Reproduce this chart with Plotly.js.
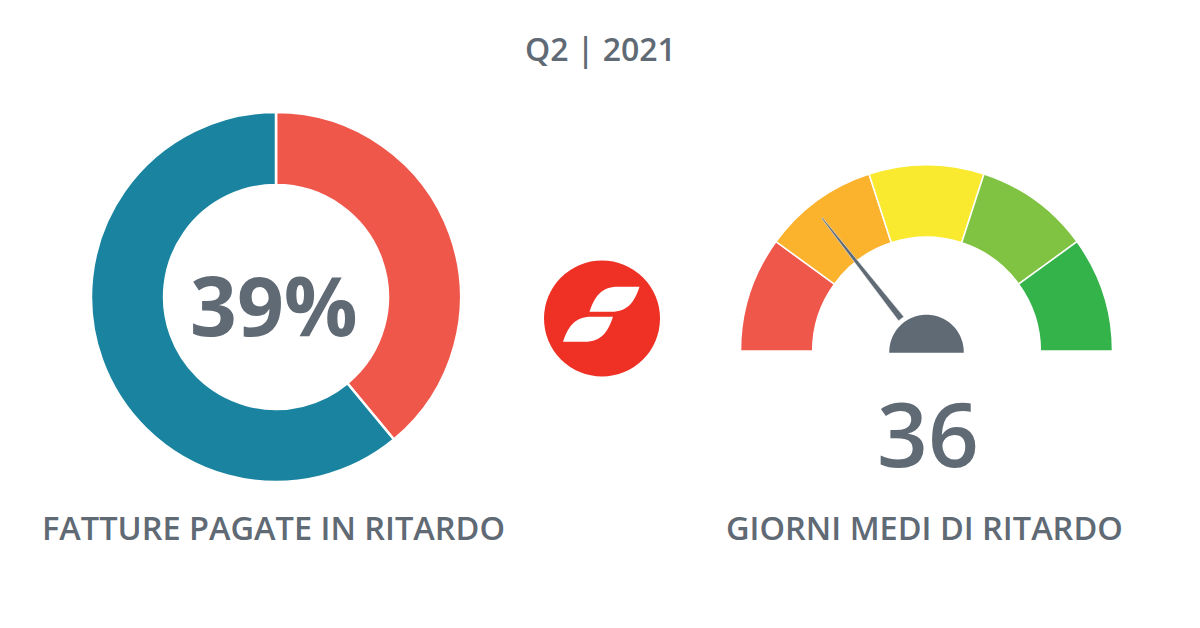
<!DOCTYPE html>
<html>
<head>
<meta charset="utf-8">
<script src="https://cdn.plot.ly/plotly-3.0.1.min.js"></script>
<style>html,body{margin:0;padding:0;background:#fff;}#chart{width:1200px;height:628px;}</style>
</head>
<body>
<div id="chart"></div>
<script>
// ---- data ----
const periodTitle = "Q2 | 2021";
const donutLabels = ["Pagate in ritardo", "Pagate puntuali"];
const donutValues = [39, 61];
const donutColors = ["#F0574B", "#1A84A0"];
const donutCaption = "FATTURE PAGATE IN RITARDO";
const donutCenterText = "39%";

const gaugeBandLabels = ["0-25", "25-50", "50-75", "75-100", "100-125"];
const gaugeBandValues = [25, 25, 25, 25, 25];
const gaugeBandColors = ["#F0574B", "#FBB32E", "#F9EA2F", "#80C342", "#34B34A"];
const gaugeValue = 36;
const gaugeCaption = "GIORNI MEDI DI RITARDO";

// ---- layout helpers (pixel geometry) ----
const W = 1200, H = 628;
const textColor = "#5F6A75";
const font = "'Open Sans', 'Noto Sans', sans-serif";

const donutC = {x: 276, y: 297, r: 185};
const gaugeC = {x: 926.5, y: 351, r: 186};
const logoC = {x: 602, y: 318.5, r: 58};

function domainFor(c) {
  return {
    x: [(c.x - c.r) / W, (c.x + c.r) / W],
    y: [(H - c.y - c.r) / H, (H - c.y + c.r) / H]
  };
}

const gaugeTotal = gaugeBandValues.reduce((a, b) => a + b, 0);

const traces = [
  {
    type: "scatter", x: [0], y: [0], mode: "markers",
    marker: {opacity: 0}, hoverinfo: "skip", showlegend: false
  },
  {
    type: "pie",
    labels: donutLabels,
    values: donutValues,
    sort: false,
    direction: "clockwise",
    rotation: 0,
    hole: 0.605,
    textinfo: "none",
    hoverinfo: "label+percent",
    marker: {colors: donutColors, line: {color: "#ffffff", width: 2.5}},
    domain: domainFor(donutC),
    showlegend: false
  },
  {
    type: "pie",
    labels: gaugeBandLabels.concat(["_hidden"]),
    values: gaugeBandValues.concat([gaugeTotal]),
    sort: false,
    direction: "clockwise",
    rotation: -90,
    hole: 0.612,
    textinfo: "none",
    hoverinfo: "label",
    marker: {
      colors: gaugeBandColors.concat(["rgba(0,0,0,0)"]),
      line: {color: "#ffffff", width: gaugeBandValues.map(() => 1.5).concat([0])}
    },
    domain: domainFor(gaugeC),
    showlegend: false
  }
];

// needle
const theta = Math.PI * (1 - gaugeValue / gaugeTotal);
const ux = Math.cos(theta), uy = -Math.sin(theta);
const px = -uy, py = ux;
const rTip = 169, rBase = 41, halfBase = 3.3, halfTip = 0.6;
function pt(r, off) {
  return [gaugeC.x + ux * r + px * off, gaugeC.y + uy * r + py * off];
}
const nPts = [pt(rBase, -halfBase), pt(rTip, -halfTip), pt(rTip, halfTip), pt(rBase, halfBase)];
const needlePath = "M " + nPts.map(p => p[0].toFixed(2) + "," + p[1].toFixed(2)).join(" L ") + " Z";

// hub (semicircle)
const hubR = 36.5;
let hubPts = [];
for (let i = 0; i <= 60; i++) {
  const a = Math.PI * (1 - i / 60);
  hubPts.push([gaugeC.x + hubR * Math.cos(a), gaugeC.y + 1 - hubR * Math.sin(a)]);
}
const hubPath = "M " + hubPts.map(p => p[0].toFixed(2) + "," + p[1].toFixed(2)).join(" L ") + " Z";

// logo leaves (relative to logo center)
function leaf(dx, dy) {
  const X = v => (logoC.x + dx + v[0]).toFixed(2);
  const Y = v => (logoC.y + dy + v[1]).toFixed(2);
  const p = [[-12, 12.5], [-7, -2.5], [-0.3, -12.5], [16.3, -12.5], [38, -12.5], [33, 2.5], [26.3, 12.5], [9.7, 12.5]];
  return `M ${X(p[0])},${Y(p[0])} C ${X(p[1])},${Y(p[1])} ${X(p[2])},${Y(p[2])} ${X(p[3])},${Y(p[3])} L ${X(p[4])},${Y(p[4])} C ${X(p[5])},${Y(p[5])} ${X(p[6])},${Y(p[6])} ${X(p[7])},${Y(p[7])} Z`;
}

const shapes = [
  {type: "path", xref: "x", yref: "y", layer: "above", path: needlePath,
   fillcolor: "#5F6A75", line: {width: 0.6, color: "#e6e9ec"}},
  {type: "path", xref: "x", yref: "y", layer: "above", path: hubPath,
   fillcolor: "#5F6A75", line: {width: 1.5, color: "#5F6A75"}},
  {type: "circle", xref: "x", yref: "y", layer: "above",
   x0: logoC.x - logoC.r, x1: logoC.x + logoC.r, y0: logoC.y - logoC.r, y1: logoC.y + logoC.r,
   fillcolor: "#EE3124", line: {width: 0}},
  {type: "path", xref: "x", yref: "y", layer: "above", path: leaf(-0.5, -19.3),
   fillcolor: "#ffffff", line: {width: 0}},
  {type: "path", xref: "x", yref: "y", layer: "above", path: leaf(-27, 10.7),
   fillcolor: "#ffffff", line: {width: 0}}
];

const annotations = [
  {text: periodTitle, x: 600, y: 48, font: {family: font, size: 32, color: textColor, weight: 600}},
  {text: donutCenterText, x: donutC.x - 2, y: 304, font: {family: font, size: 82, color: textColor, weight: 700}},
  {text: gaugeValue.toString(), x: gaugeC.x + 1, y: 432, font: {family: font, size: 89, color: textColor, weight: 600}},
  {text: donutCaption, x: 273.5, y: 527, font: {family: font, size: 32.5, color: textColor, weight: 600}},
  {text: gaugeCaption, x: 924, y: 527, font: {family: font, size: 32.5, color: textColor, weight: 600}}
].map(a => Object.assign({xref: "x", yref: "y", showarrow: false, xanchor: "center", yanchor: "middle"}, a));

const layout = {
  width: W, height: H,
  margin: {l: 0, r: 0, t: 0, b: 0},
  paper_bgcolor: "#ffffff", plot_bgcolor: "rgba(0,0,0,0)",
  showlegend: false,
  xaxis: {range: [0, W], visible: false, fixedrange: true, domain: [0, 1]},
  yaxis: {range: [H, 0], visible: false, fixedrange: true, domain: [0, 1]},
  shapes: shapes,
  annotations: annotations
};

Plotly.newPlot("chart", traces, layout, {displayModeBar: false, staticPlot: true});
</script>
</body>
</html>
